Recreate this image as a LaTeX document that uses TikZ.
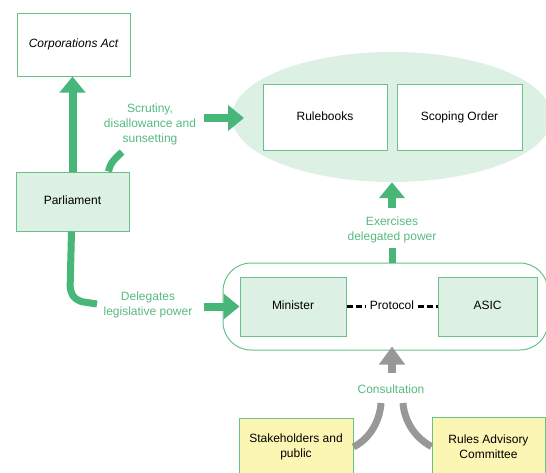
\documentclass[tikz,border=0pt]{standalone}
\usepackage{fontspec}
\setmainfont{Liberation Sans}
\usetikzlibrary{arrows.meta, positioning, calc, shapes.geometric}

\definecolor{flowgreen}{RGB}{72,181,121}
\definecolor{boxgreen}{RGB}{104,193,137}
\definecolor{lblgreen}{RGB}{86,186,128}
\definecolor{palegreen}{RGB}{221,240,228}
\definecolor{paleyellow}{RGB}{252,246,180}
\definecolor{flowgray}{RGB}{152,152,152}

\tikzset{
  box/.style={draw=boxgreen, line width=1pt, fill=white, inner sep=0pt, align=center,
    font=\fontsize{12}{15}\selectfont},
  oneline/.style={text height=8.6pt, text depth=2.5pt},
  greenbox/.style={box, fill=palegreen},
  yellowbox/.style={box, fill=paleyellow},
  lbl/.style={text=lblgreen, inner sep=0pt, align=center, font=\fontsize{12}{15}\selectfont},
  bigarrow/.style={flowgreen, line width=8pt, -{Triangle[width=25pt,length=16pt]}},
  greenline/.style={flowgreen, line width=7pt},
  grayarrow/.style={flowgray, line width=8pt, -{Triangle[width=25pt,length=18pt]}},
  grayline/.style={flowgray, line width=7pt},
  protline/.style={black, line width=2.3pt, dash pattern=on 6pt off 3pt},
}

\begin{document}
\begin{tikzpicture}[x=1pt, y=-1pt]
  \useasboundingbox (0,0) rectangle (546,472);

  % instruments made under delegation
  \node[ellipse, fill=palegreen, minimum width=320pt, minimum height=130pt] (instr) at (392,117) {};
  \node[box, oneline, minimum width=124pt, minimum height=66pt] (rules) at (325,117) {Rulebooks};
  \node[box, oneline, minimum width=125pt, minimum height=66pt] (scope) at (459.5,117) {Scoping Order};

  % parliament side
  \node[box, oneline, minimum width=113pt, minimum height=63pt] (act) at (73.5,44.5) {\itshape Corporations Act};
  \node[greenbox, oneline, minimum width=113pt, minimum height=59pt] (parl) at (72.5,201.5) {Parliament};

  % executive
  \node[draw=boxgreen, line width=1pt, rounded corners=28pt, minimum width=325pt, minimum height=87pt] (exec) at (385.5,306.5) {};
  \node[greenbox, oneline, minimum width=106pt, minimum height=59pt] (mini) at (293,306.5) {Minister};
  \node[greenbox, oneline, minimum width=99pt, minimum height=59pt] (asic) at (487.5,306.5) {ASIC};
  \node[oneline, inner sep=4pt, font=\fontsize{12}{15}\selectfont] (proto) at (392,306.5) {Protocol};
  \draw[protline] (mini.east) -- (proto.west);
  \draw[protline] (proto.east) -- (asic.west);

  % consulted parties
  \node[yellowbox, minimum width=114pt, minimum height=58pt] (stake) at (296,447) {Stakeholders and\\public};
  \node[yellowbox, minimum width=113pt, minimum height=58pt] (radv) at (488.5,446.5) {Rules Advisory\\Committee};

  % labels
  \node[lbl] (scrut) at (150,124.5) {Scrutiny,\\disallowance and\\sunsetting};
  \node[lbl] (deleg) at (148,305) {Delegates\\legislative power};
  \node[lbl] (exer) at (392,230) {Exercises\\delegated power};
  \node[lbl] (cons) at (391,389) {Consultation};

  \coordinate (scrutin) at (122,152);
  \coordinate (scrutout) at (204,118);
  \coordinate (scruttip) at (244,118);
  \coordinate (delegin) at (97,304);
  \coordinate (delegout) at (204,306.5);
  \coordinate (exerlo) at (392,248);
  \coordinate (exerhi) at (392,208);
  \coordinate (consup) at (392,373);
  \coordinate (consl) at (381,403);
  \coordinate (consr) at (403,403);

  % green flows
  \draw[bigarrow] (parl.north) -- (parl.north |- act.south);
  \draw[greenline] ($(parl.north)+(36,0)$) .. controls +(2,-10) and +(-6,6) .. (scrutin);
  \draw[bigarrow] (scrutout) -- (scruttip);
  \draw[greenline, rounded corners=6pt] ($(parl.south)+(-1,0)$) -- (70,292) -- (77,301) -- (delegin);
  \draw[bigarrow] (delegout) -- (mini.west);
  \draw[greenline] (exerlo |- exec.north) -- (exerlo);
  \draw[bigarrow] (exerhi) -- (instr.south);

  % gray consultation flows
  \draw[grayarrow] (consup) -- ($(consup |- exec.south)+(0,-4)$);
  \draw[grayline] (stake.east) .. controls +(19,-10) and +(-1,15) .. (consl);
  \draw[grayline] (radv.west) .. controls +(-19,-10) and +(1,15) .. (consr);
\end{tikzpicture}
\end{document}
